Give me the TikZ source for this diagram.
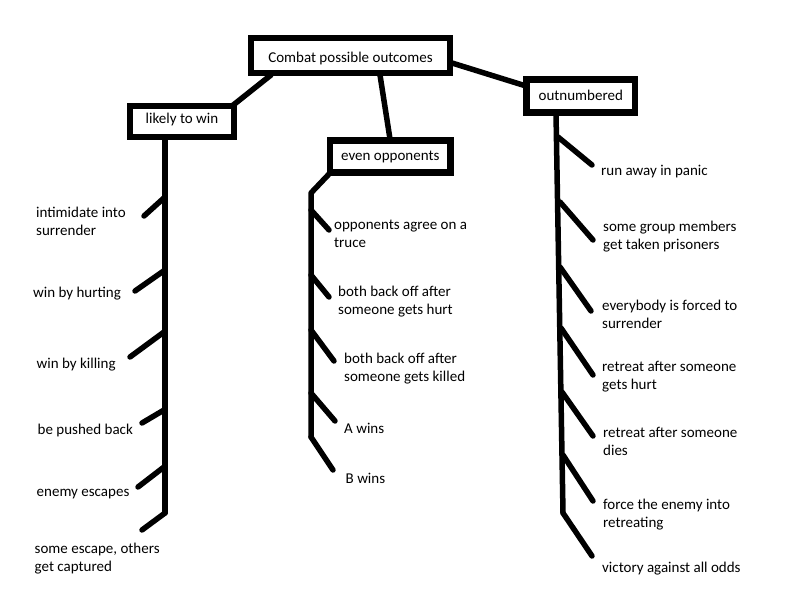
\documentclass[tikz,border=0pt]{standalone}
\usepackage{fontspec}
\setmainfont{Carlito}
\begin{document}
\begin{tikzpicture}[x=1pt,y=-1pt,
  stroke/.style={line width=5.5pt,line cap=round,line join=round},
  box/.style={draw,line width=6.5pt,inner sep=0pt,font=\fontsize{15}{18}\selectfont,text height=11pt,text depth=3.7pt},
  lbl/.style={anchor=west,inner sep=0pt,align=left,yshift=-1.5pt,font=\fontsize{15}{18}\selectfont}]
\useasboundingbox[fill=white] (0,0) rectangle (793,615);
% boxes
\node[box,minimum width=199pt,minimum height=35pt,text height=17pt] (combat) at (350.5,55.5) {Combat possible outcomes};
\node[box,minimum width=104pt,minimum height=31pt,text depth=6.7pt] (likely) at (182,121.5) {likely to win};
\node[box,minimum width=120.5pt,minimum height=32pt,text depth=3.7pt] (even) at (390.25,156.5) {even opponents};
\node[box,minimum width=108.5pt,minimum height=33pt,text height=12pt] (outn) at (580.75,96) {outnumbered};
% box connectors
\coordinate (c1) at (271,75);  \coordinate (l1) at (232,106);
\coordinate (c2) at (380,75);  \coordinate (e1) at (390,139);
\coordinate (c3) at (452,63);  \coordinate (o1) at (526,86);
\draw[stroke] (c1) -- (l1);
\draw[stroke] (c2) -- (e1);
\draw[stroke] (c3) -- (o1);
% left trunk
\coordinate (L0) at (165,137);
\coordinate (L1) at (165,197); \coordinate (L1e) at (144,216);
\coordinate (L2) at (165,270); \coordinate (L2e) at (135,291);
\coordinate (L3) at (164,332); \coordinate (L3e) at (130,357);
\coordinate (L4) at (164,410); \coordinate (L4e) at (142,423);
\coordinate (L5) at (164,467); \coordinate (L5e) at (138,487);
\coordinate (L6) at (165,513); \coordinate (L6e) at (142,530);
\draw[stroke] (L0) -- (L6);
\foreach \i in {1,...,6} \draw[stroke] (L\i) -- (L\i e);
% middle trunk
\coordinate (M0) at (330,173);
\coordinate (Mt) at (311,193);
\coordinate (M1) at (311,210); \coordinate (M1e) at (329,230);
\coordinate (M2) at (311,275); \coordinate (M2e) at (329,297);
\coordinate (M3) at (311,330); \coordinate (M3e) at (334,361);
\coordinate (M4) at (311,393); \coordinate (M4e) at (335,421);
\coordinate (M5) at (311,437); \coordinate (M5e) at (333,470);
\draw[stroke] (M0) -- (Mt) -- (M5);
\foreach \i in {1,...,5} \draw[stroke] (M\i) -- (M\i e);
% right trunk
\coordinate (R0) at (556,113);
\coordinate (R1) at (558,137); \coordinate (R1e) at (592,165);
\coordinate (R2) at (560,202); \coordinate (R2e) at (593,240);
\coordinate (R3) at (560,267); \coordinate (R3e) at (591,311);
\coordinate (R4) at (561,328); \coordinate (R4e) at (593,375);
\coordinate (R5) at (562,392); \coordinate (R5e) at (593,436);
\coordinate (R6) at (563,455); \coordinate (R6e) at (593,501);
\coordinate (R7) at (563,513); \coordinate (R7e) at (592,556);
\draw[stroke] (R0) -- (R7);
\foreach \i in {1,...,7} \draw[stroke] (R\i) -- (R\i e);
% left labels
\node[lbl] (t1) at (36,219.5) {intimidate into\\surrender};
\node[lbl] (t2) at (33,292.5) {win by hurting};
\node[lbl] (t3) at (36.5,363) {win by killing};
\node[lbl] (t4) at (37.5,429) {be pushed back};
\node[lbl] (t5) at (36.5,493) {enemy escapes};
\node[lbl] (t6) at (34.5,557.5) {some escape, others\\get captured};
% middle labels
\node[lbl] (m1) at (334,232.5) {opponents agree on a\\truce};
\node[lbl] (m2) at (338,300.5) {both back off after\\someone gets hurt};
\node[lbl] (m3) at (344,367) {both back off after\\someone gets killed};
\node[lbl] (m4) at (344,427.3) {A wins};
\node[lbl] (m5) at (345.5,477.3) {B wins};
% right labels
\node[lbl] (r1) at (601,170) {run away in panic};
\node[lbl] (r2) at (603,235) {some group members\\get taken prisoners};
\node[lbl] (r3) at (602,312.5) {everybody is forced to\\surrender};
\node[lbl] (r4) at (602,374.7) {retreat after someone\\gets hurt};
\node[lbl] (r5) at (603,439.5) {retreat after someone\\dies};
\node[lbl] (r6) at (603,513) {force the enemy into\\retreating};
\node[lbl] (r7) at (602,566.7) {victory against all odds};
\end{tikzpicture}
\end{document}
